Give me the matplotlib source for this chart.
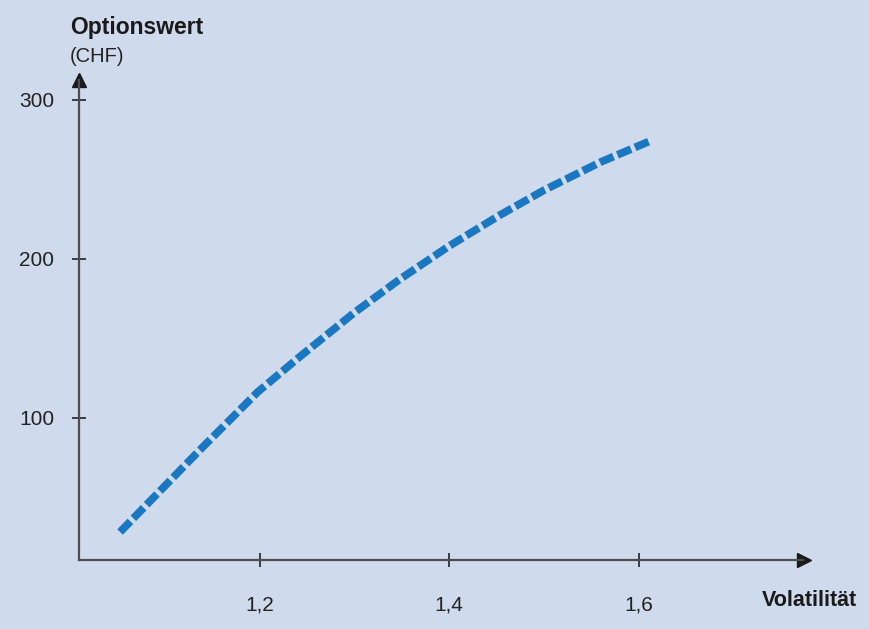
import matplotlib
matplotlib.use("Agg")
import matplotlib.pyplot as plt

plt.rcParams['font.family'] = ['Liberation Sans', 'DejaVu Sans']

# data
volatility = [1.053, 1.137, 1.198, 1.243, 1.300, 1.348, 1.400, 1.454, 1.500, 1.559, 1.614]
option_value = [28.0, 79.5, 116.0, 138.5, 166.0, 187.0, 207.9, 227.5, 243.0, 260.5, 274.5]
x_ticks = [1.2, 1.4, 1.6]
x_tick_labels = ["1,2", "1,4", "1,6"]
y_ticks = [100, 200, 300]
y_tick_labels = ["100", "200", "300"]

W, H = 869, 629
bg = '#cfdaed'
axis_col = '#4d4d52'
line_col = '#1a78c2'

fig = plt.figure(figsize=(W / 100, H / 100), dpi=100, facecolor=bg)

left_px, right_px, bottom_px, top_px = 79, 803.5, 560, 79.5
ax = fig.add_axes([left_px / W, 1 - bottom_px / H,
                   (right_px - left_px) / W, (bottom_px - top_px) / H])
ax.set_facecolor(bg)

ax.plot(volatility, option_value, color=line_col, lw=5.6,
        dashes=(1.9, 0.55), solid_capstyle='butt', dash_capstyle='butt',
        solid_joinstyle='round', dash_joinstyle='round')

ax.set_xlim(1.0097, 1.7735)
ax.set_ylim(10.38, 312.6)

for s in ['top', 'right']:
    ax.spines[s].set_visible(False)
for s in ['left', 'bottom']:
    ax.spines[s].set_color(axis_col)
    ax.spines[s].set_linewidth(1.6)

ax.set_xticks(x_ticks)
ax.set_xticklabels(x_tick_labels)
ax.set_yticks(y_ticks)
ax.set_yticklabels(y_tick_labels)
ax.tick_params(axis='both', direction='inout', length=9.5, width=1.2,
               colors='#222222', labelsize=15, labelcolor='#222222')
ax.tick_params(axis='x', pad=21)
ax.tick_params(axis='y', pad=13)

# arrow heads
ax.plot([1], [0], marker='>', markersize=10, color='#1a1a1a',
        transform=ax.transAxes, clip_on=False)
ax.plot([0], [1], marker='^', markersize=10, color='#1a1a1a',
        transform=ax.transAxes, clip_on=False)

fig.text(70 / W, 1 - 34 / H, "Optionswert", fontsize=16.5, fontweight='bold',
         color='#1a1a1a', ha='left', va='baseline')
fig.text(70 / W, 1 - 62 / H, "(CHF)", fontsize=14.5, color='#222222',
         ha='left', va='baseline')
fig.text(857 / W, 1 - 601 / H, "Volatilität", fontsize=15.5, fontweight='bold',
         color='#1a1a1a', ha='right', va='center')

fig.savefig("out.png", dpi=100, facecolor=bg)
